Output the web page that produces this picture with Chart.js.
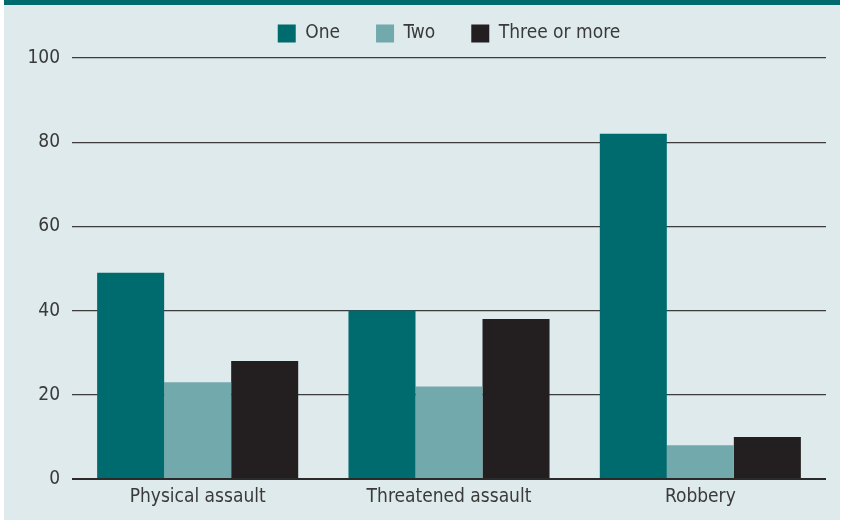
<!DOCTYPE html>
<html>
<head>
<meta charset="utf-8">
<script src="https://cdn.jsdelivr.net/npm/chart.js@4/dist/chart.umd.min.js"></script>
<style>
    html, body { margin: 0; padding: 0; background: #ffffff; }
    #panel { position: absolute; left: 4px; top: 0; width: 836px; height: 520px; background: #deeaeb; }
    #topbar { position: absolute; left: 4px; top: 0; width: 836px; height: 5px; background: #006b6e; }
    #wrap { position: absolute; left: 0; top: 0; width: 846px; height: 520px; }
</style>
</head>
<body>
<div id="panel"></div>
<div id="topbar"></div>
<div id="wrap"><canvas id="chart" width="846" height="520"></canvas></div>
<script>
    // ============================================================
    // DATA
    // ============================================================
    const categories = ['Physical assault', 'Threatened assault', 'Robbery'];
    const seriesNames = ['One', 'Two', 'Three or more'];
    const oneValues = [49, 40, 82];
    const twoValues = [23, 22, 8];
    const threeValues = [28, 38, 10];
    const yTicks = [0, 20, 40, 60, 80, 100];

    const colors = ['#006b6e', '#72a9ad', '#231f20'];
    const FONT = "'Liberation Sans Narrow', 'Arial Narrow', 'DejaVu Sans Condensed', sans-serif";

    // legend height fix + center the legend over the plot area
    const legendPlace = {
        id: 'legendPlace',
        beforeInit(chart) {
            const fit = chart.legend.fit;
            chart.legend.fit = function () {
                fit.call(this);
                this.height = 70;
            };
        },
        afterLayout(chart) {
            const lg = chart.legend;
            lg.left = chart.chartArea.left;
            lg.right = chart.chartArea.right;
            lg.width = lg.right - lg.left;
        }
    };

    const ctx = document.getElementById('chart');
    new Chart(ctx, {
        type: 'bar',
        data: {
            labels: categories,
            datasets: [oneValues, twoValues, threeValues].map((vals, i) => ({
                label: seriesNames[i],
                data: vals,
                backgroundColor: colors[i],
                borderWidth: 0,
                barPercentage: 1,
                categoryPercentage: 0.8
            }))
        },
        options: {
            responsive: false,
            animation: false,
            layout: { padding: { left: 0, right: 20, top: -12, bottom: 0 } },
            plugins: {
                legend: {
                    position: 'top',
                    labels: {
                        boxWidth: 18,
                        boxHeight: 18,
                        padding: 36,
                        color: '#3a3a3a',
                        font: { family: FONT, size: 19 }
                    }
                },
                tooltip: { enabled: false }
            },
            scales: {
                y: {
                    min: 0,
                    max: 100,
                    afterBuildTicks: s => { s.ticks = yTicks.map(v => ({ value: v })); },
                    afterFit: s => { s.width = 72; },
                    border: { display: false },
                    grid: {
                        drawTicks: false,
                        color: c => c.tick && c.tick.value === 0 ? '#2a2a2a' : '#3c3c3c',
                        lineWidth: c => c.tick && c.tick.value === 0 ? 2 : 1.3
                    },
                    ticks: {
                        padding: 12,
                        color: '#3a3a3a',
                        font: { family: FONT, size: 19 }
                    }
                },
                x: {
                    afterFit: s => { s.height = 41; },
                    border: { display: false },
                    grid: { display: false },
                    ticks: {
                        padding: -1,
                        color: '#3a3a3a',
                        font: { family: FONT, size: 19 }
                    }
                }
            }
        },
        plugins: [legendPlace]
    });
</script>
</body>
</html>
